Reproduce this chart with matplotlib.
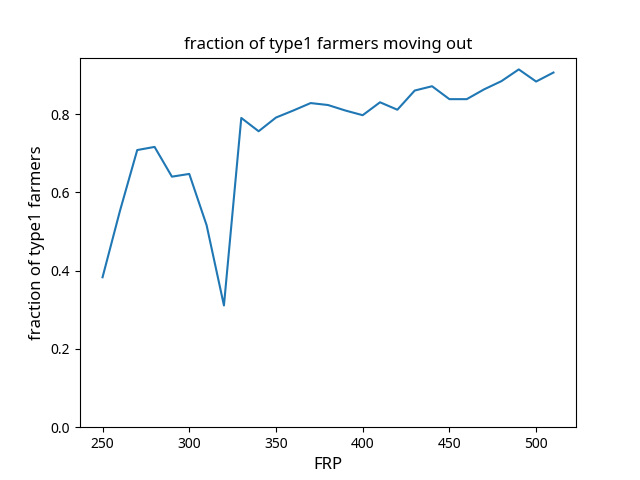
import matplotlib
matplotlib.use("Agg")
import matplotlib.pyplot as plt

plt.rcParams['font.family'] = ['Noto Sans', 'DejaVu Sans']

frp = [250, 260, 270, 280, 290, 300, 310, 320, 330, 340, 350, 360, 370, 380,
       390, 400, 410, 420, 430, 440, 450, 460, 470, 480, 490, 500, 510]
fraction = [0.383, 0.552, 0.708, 0.716, 0.640, 0.647, 0.516, 0.311, 0.790,
            0.756, 0.791, 0.809, 0.828, 0.823, 0.809, 0.797, 0.830, 0.811,
            0.860, 0.871, 0.838, 0.838, 0.863, 0.884, 0.914, 0.883, 0.906]

fig, ax = plt.subplots(figsize=(6.4, 4.8), dpi=100)
ax.plot(frp, fraction, color='#1f77b4', linewidth=1.5)
ax.set_ylim(bottom=0)
ax.set_title('fraction of type1 farmers moving out', fontsize=12)
ax.set_xlabel('FRP', fontsize=12)
ax.set_ylabel('fraction of type1 farmers', fontsize=12)
fig.savefig('out.png', dpi=100)
